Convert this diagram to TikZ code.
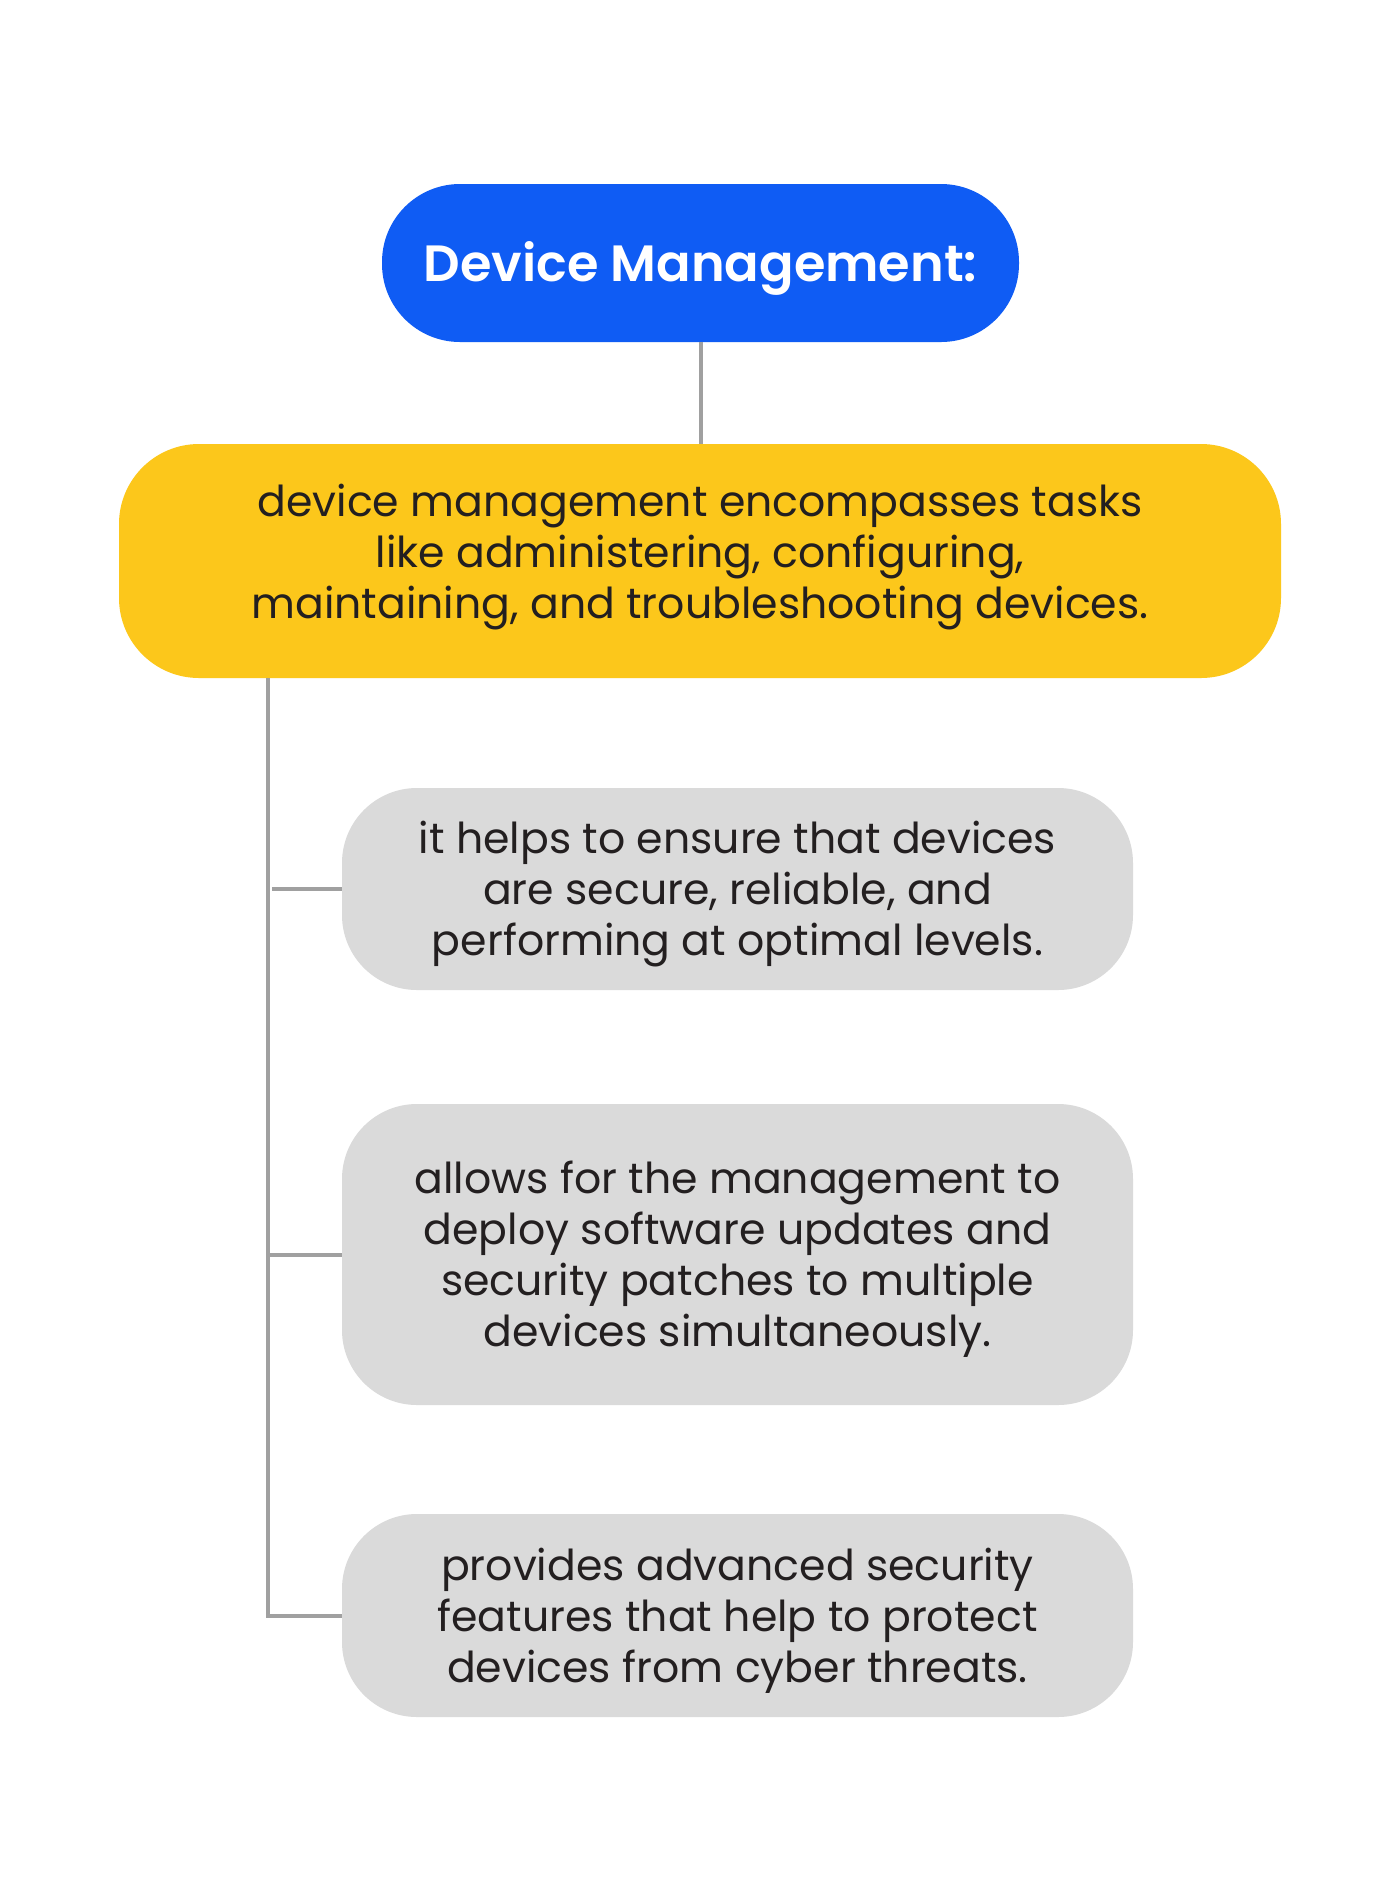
\documentclass[tikz,border=0pt]{standalone}
\usepackage{fontspec}
\setmainfont{Poppins}[BoldFont={Poppins SemiBold}]
\definecolor{titleblue}{HTML}{0F5CF4}
\definecolor{mainyellow}{HTML}{FCC71B}
\definecolor{boxgray}{HTML}{DADADA}
\definecolor{linegray}{HTML}{A0A0A0}
\definecolor{txt}{HTML}{231F20}
\tikzset{
  titlebox/.style={rectangle, rounded corners=39pt, fill=titleblue,
    minimum width=318.5pt, minimum height=79pt, inner sep=0pt},
  titletext/.style={text=white, inner sep=0pt,
    font=\fontsize{25.5}{30}\selectfont\bfseries},
  mainbox/.style={rectangle, rounded corners=40pt, fill=mainyellow,
    minimum width=581pt, minimum height=117pt, inner sep=0pt},
  itembox/.style={rectangle, rounded corners=37.5pt, fill=boxgray,
    minimum width=395.5pt, inner sep=0pt},
  bodytext/.style={text=txt, inner sep=0pt, align=center,
    font=\fontsize{21.3}{25.5}\selectfont},
  conn/.style={draw=linegray, line width=2pt}
}
\begin{document}
\begin{tikzpicture}[x=0.5pt,y=-0.5pt]
\useasboundingbox[fill=white] (0,0) rectangle (1400,1903);
\node[titlebox] (title) at (700.5,263) {};
\node[titletext] (titlet) at ([yshift=-2.5pt]title.center) {Device Management:};
\node[mainbox] (main) at (700,561) {};
\node[bodytext] (maint) at ([yshift=2pt]main.center) {device management encompasses tasks\\like administering, configuring,\\maintaining, and troubleshooting devices.};
\node[itembox, minimum height=101pt] (b1) at (737.5,889) {};
\node[bodytext] (b1t) at ([yshift=-2.5pt]b1.center) {it helps to ensure that devices\\are secure, reliable, and\\performing at optimal levels.};
\node[itembox, minimum height=150.5pt] (b2) at (737.5,1254.5) {};
\node[bodytext] (b2t) at ([yshift=-2.5pt]b2.center) {allows for the management to\\deploy software updates and\\security patches to multiple\\devices simultaneously.};
\node[itembox, minimum height=101.5pt] (b3) at (737.5,1615.5) {};
\node[bodytext] (b3t) at ([yshift=-2.5pt]b3.center) {provides advanced security\\features that help to protect\\devices from cyber threats.};
\coordinate (trunk) at (268,678);
\draw[conn] (title.south) -- (title.south |- main.north);
\draw[conn] (trunk) |- (b3.west);
\draw[conn] (b2.west) -- (b2.west -| trunk);
\draw[conn] (b1.west) -- ([xshift=2pt]b1.west -| trunk);
\end{tikzpicture}
\end{document}
